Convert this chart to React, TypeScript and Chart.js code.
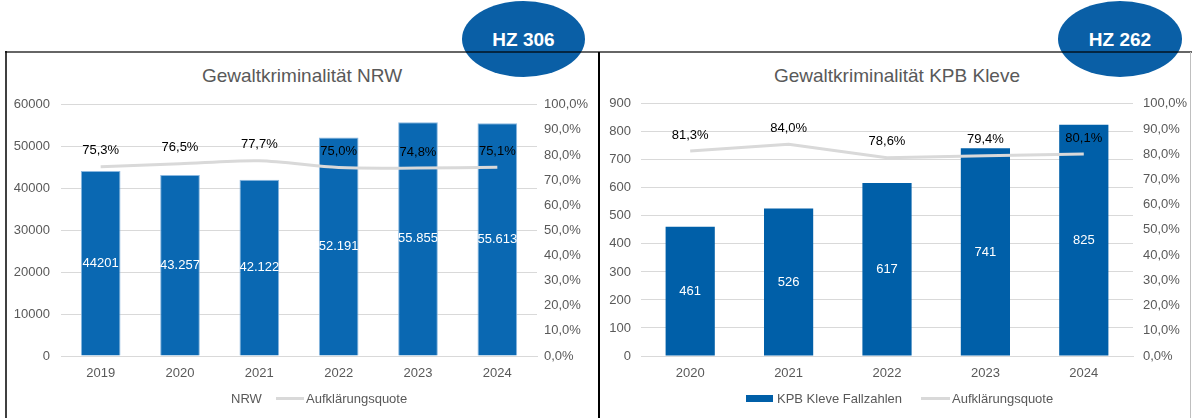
import React, { useEffect, useRef } from 'react';
import { Chart, registerables } from 'chart.js';

Chart.register(...registerables);

const FONT = '"Liberation Sans", Arial, Helvetica, sans-serif';
const TEXT_GRAY = '#595959';
const GRID = '#d9d9d9';

// ---- Data: Gewaltkriminalität NRW ----
const nrwYears = ['2019', '2020', '2021', '2022', '2023', '2024'];
const nrwCases = [44201, 43257, 42122, 52191, 55855, 55613];
const nrwCaseLabels = ['44201', '43.257', '42.122', '52.191', '55.855', '55.613'];
const nrwRates = [75.3, 76.5, 77.7, 75.0, 74.8, 75.1];

// ---- Data: Gewaltkriminalität KPB Kleve ----
const kleveYears = ['2020', '2021', '2022', '2023', '2024'];
const kleveCases = [461, 526, 617, 741, 825];
const kleveCaseLabels = ['461', '526', '617', '741', '825'];
const kleveRates = [81.3, 84.0, 78.6, 79.4, 80.1];

const pct = (v: number) => v.toFixed(1).replace('.', ',') + '%';

const CANVAS_TOP = 86;
const CANVAS_H = 332;

const labelPlugin = {
  id: 'valueLabels',
  afterDatasetsDraw(chart: any) {
    const ctx = chart.ctx;
    ctx.save();
    ctx.font = `13px ${FONT}`;
    ctx.textAlign = 'center';
    ctx.textBaseline = 'middle';
    chart.data.datasets.forEach((ds: any, i: number) => {
      const meta = chart.getDatasetMeta(i);
      meta.data.forEach((el: any, j: number) => {
        if (ds.type === 'bar') {
          ctx.fillStyle = '#ffffff';
          ctx.fillText(ds.valueLabels[j], el.x, (el.y + el.base) / 2);
        } else {
          ctx.fillStyle = '#000000';
          ctx.fillText(pct(ds.data[j]), el.x, el.y - 16);
        }
      });
    });
    ctx.restore();
  },
};

type PanelProps = {
  left: number;
  width: number;
  categories: string[];
  cases: number[];
  caseLabels: string[];
  rates: number[];
  barColor: string;
  barBorder: string;
  barBorderWidth: number;
  tension: number;
  leftW: number;
  rightW: number;
  leftMax: number;
  leftStep: number;
  leftPad: number;
  rightPad: number;
  barLabel: string;
};

function ChartCanvas(p: PanelProps) {
  const ref = useRef<HTMLCanvasElement | null>(null);
  useEffect(() => {
    if (!ref.current) return;
    const chart = new Chart(ref.current, {
      type: 'bar',
      data: {
        labels: p.categories,
        datasets: [
          {
            type: 'line',
            label: 'Aufklärungsquote',
            data: p.rates,
            yAxisID: 'y1',
            borderColor: GRID,
            borderWidth: 3,
            pointRadius: 0,
            tension: p.tension,
            order: 0,
          } as any,
          {
            type: 'bar',
            label: p.barLabel,
            data: p.cases,
            yAxisID: 'y',
            backgroundColor: p.barColor,
            borderColor: p.barBorder,
            borderWidth: p.barBorderWidth,
            categoryPercentage: 1,
            barPercentage: 0.5,
            order: 1,
            valueLabels: p.caseLabels,
          } as any,
        ],
      },
      options: {
        responsive: false,
        animation: false,
        devicePixelRatio: 1,
        layout: { padding: { top: 9, left: 0, right: 0, bottom: 0 } },
        plugins: {
          legend: { display: false },
          title: { display: false },
          tooltip: { enabled: false },
        },
        scales: {
          x: {
            grid: { display: false, drawTicks: false },
            border: { display: true, color: GRID, width: 1 },
            ticks: { color: TEXT_GRAY, font: { family: FONT, size: 13 }, padding: 10 },
            afterFit: (s: any) => {
              s.height = 62;
            },
          },
          y: {
            position: 'left',
            min: 0,
            max: p.leftMax,
            ticks: {
              stepSize: p.leftStep,
              color: TEXT_GRAY,
              font: { family: FONT, size: 13 },
              padding: p.leftPad,
              callback: (v: any) => String(v),
            },
            grid: { color: GRID, drawTicks: false },
            border: { display: false },
            afterFit: (s: any) => {
              s.width = p.leftW;
            },
          },
          y1: {
            position: 'right',
            min: 0,
            max: 100,
            ticks: {
              stepSize: 10,
              color: TEXT_GRAY,
              font: { family: FONT, size: 13 },
              padding: p.rightPad,
              callback: (v: any) => pct(Number(v)),
            },
            grid: { display: false, drawTicks: false },
            border: { display: false },
            afterFit: (s: any) => {
              s.width = p.rightW;
            },
          },
        },
      } as any,
      plugins: [labelPlugin],
    });
    return () => chart.destroy();
  }, []);
  return (
    <canvas
      ref={ref}
      width={p.width}
      height={CANVAS_H}
      style={{ position: 'absolute', left: p.left, top: CANVAS_TOP, width: p.width, height: CANVAS_H }}
    />
  );
}

const abs = (s: React.CSSProperties): React.CSSProperties => ({ position: 'absolute', ...s });

export default function App() {
  const textBase: React.CSSProperties = {
    fontFamily: FONT,
    color: TEXT_GRAY,
    whiteSpace: 'nowrap',
    lineHeight: '1',
  };
  return (
    <div
      style={{
        position: 'fixed',
        left: 0,
        top: 0,
        width: 1192,
        height: 418,
        overflow: 'hidden',
        background: '#ffffff',
      }}
    >
      {/* Badges */}
      <div style={abs({ left: 462, top: 1, width: 123, height: 76, borderRadius: '50%', background: '#0a5fa6' })} />
      <div style={abs({ left: 1058, top: 1, width: 124, height: 76, borderRadius: '50%', background: '#0a5fa6' })} />
      <div style={abs({ ...textBase, left: 462, top: 30, width: 123, textAlign: 'center', color: '#ffffff', fontWeight: 700, fontSize: 19 })}>HZ 306</div>
      <div style={abs({ ...textBase, left: 1058, top: 30, width: 124, textAlign: 'center', color: '#ffffff', fontWeight: 700, fontSize: 19 })}>HZ 262</div>

      {/* Panel borders */}
      <div style={abs({ left: 5, top: 51, width: 1187, height: 2, background: 'rgba(0,0,0,0.6)' })} />
      <div style={abs({ left: 5, top: 51, width: 2, height: 367, background: 'rgba(0,0,0,0.75)' })} />
      <div style={abs({ left: 598, top: 52, width: 2, height: 366, background: '#000000' })} />
      <div style={abs({ left: 1190, top: 52, width: 1, height: 366, background: '#bfbfbf' })} />

      {/* Titles */}
      <div style={abs({ ...textBase, left: 0, width: 604, top: 66, textAlign: 'center', fontSize: 19 })}>Gewaltkriminalität NRW</div>
      <div style={abs({ ...textBase, left: 600, width: 594, top: 66, textAlign: 'center', fontSize: 19 })}>Gewaltkriminalität KPB Kleve</div>

      <ChartCanvas
        left={0}
        width={598}
        categories={nrwYears}
        cases={nrwCases}
        caseLabels={nrwCaseLabels}
        rates={nrwRates}
        barColor="#0a68b2"
        barBorder="#8ab8e0"
        barBorderWidth={1}
        tension={0.3}
        leftW={61}
        rightW={61}
        leftMax={60000}
        leftStep={10000}
        leftPad={11}
        rightPad={7}
        barLabel="NRW"
      />
      <ChartCanvas
        left={600}
        width={591}
        categories={kleveYears}
        cases={kleveCases}
        caseLabels={kleveCaseLabels}
        rates={kleveRates}
        barColor="#005fa8"
        barBorder="#005fa8"
        barBorderWidth={0}
        tension={0}
        leftW={41}
        rightW={58}
        leftMax={900}
        leftStep={100}
        leftPad={10}
        rightPad={10}
        barLabel="KPB Kleve Fallzahlen"
      />

      {/* Legends */}
      <div style={abs({ ...textBase, left: 231, top: 392, fontSize: 13 })}>NRW</div>
      <div style={abs({ left: 276, top: 397, width: 28, height: 3, background: GRID })} />
      <div style={abs({ ...textBase, left: 306, top: 392, fontSize: 13 })}>Aufklärungsquote</div>

      <div style={abs({ left: 746, top: 395, width: 27, height: 7, background: '#005fa8' })} />
      <div style={abs({ ...textBase, left: 777, top: 392, fontSize: 13 })}>KPB Kleve Fallzahlen</div>
      <div style={abs({ left: 921, top: 397, width: 29, height: 3, background: GRID })} />
      <div style={abs({ ...textBase, left: 952, top: 392, fontSize: 13 })}>Aufklärungsquote</div>
    </div>
  );
}
